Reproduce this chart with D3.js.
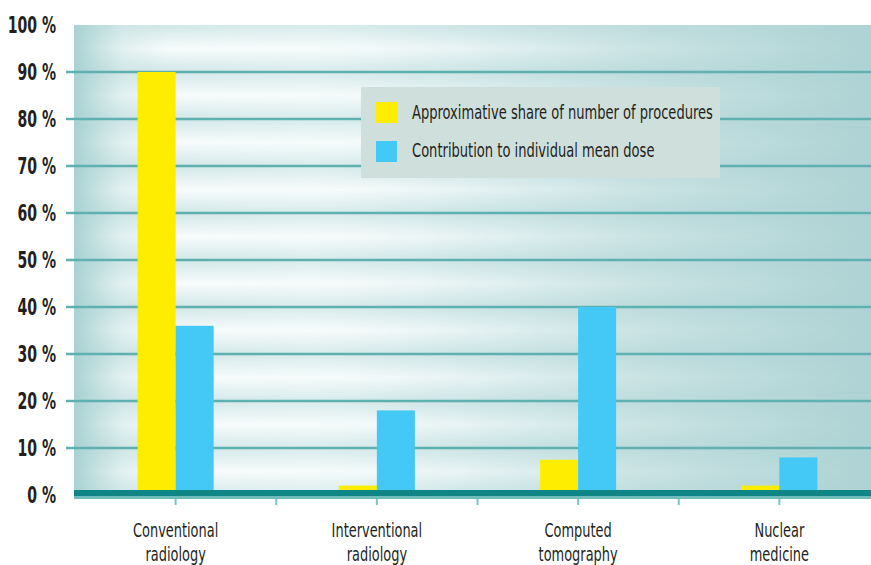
<!DOCTYPE html>
<html><head><meta charset="utf-8">
<script src="https://cdn.jsdelivr.net/npm/d3@7/dist/d3.min.js"></script>
<style>body{margin:0;background:#fff}svg{display:block}text{font-family:"DejaVu Sans Condensed","DejaVu Sans",sans-serif;fill:#231f20}</style>
</head><body>
<svg id="c" width="871" height="565"></svg>
<script>
const categories = [["Conventional","radiology"],["Interventional","radiology"],["Computed","tomography"],["Nuclear","medicine"]];
const seriesNames = ["Approximative share of number of procedures","Contribution to individual mean dose"];
const shareProcedures = [90, 2, 7.5, 2];
const doseContribution = [36, 18, 40, 8];
const yTicks = [0,10,20,30,40,50,60,70,80,90,100];
const colors = ["#ffed00","#44c8f5"];

(function(){
const svg = d3.select("#c");
const L = 74, T = 25, B = 495;
const x = d3.scaleBand().domain(d3.range(categories.length)).range([75, 880]);
const y = d3.scaleLinear().domain([0,100]).range([B, T]);
const defs = svg.append("defs");
function label(parent, tx, ty, str, size, anchor, weight, sx){
  const gg = parent.append("g").attr("transform",`translate(${tx},${ty}) scale(${sx||0.72},1)`);
  gg.append("text").attr("text-anchor",anchor).attr("font-size",size).attr("font-weight",weight||"normal").text(str);
  return gg;
}

const hg = defs.append("linearGradient").attr("id","hg");
[[0,"#a9d2d3"],[0.06,"#cfe6e6"],[0.3,"#d9ecec"],[0.6,"#c4e0e1"],[1,"#aed3d4"]].forEach(([o,c])=>hg.append("stop").attr("offset",o).attr("stop-color",c));
const vg = defs.append("linearGradient").attr("id","vg").attr("x1",0).attr("x2",0).attr("y1",0).attr("y2",1);
[[0,0],[0.5,0.85],[1,0]].forEach(([o,a])=>vg.append("stop").attr("offset",o).attr("stop-color","#fff").attr("stop-opacity",a));
const mg = defs.append("linearGradient").attr("id","mg");
[[0,0],[0.04,0.3],[0.12,1],[0.35,0.9],[0.7,0.25],[1,0]].forEach(([o,a])=>mg.append("stop").attr("offset",o).attr("stop-color","#fff").attr("stop-opacity",a));
defs.append("mask").attr("id","mk").attr("maskUnits","userSpaceOnUse").append("rect")
  .attr("x",L).attr("y",T).attr("width",871-L).attr("height",B-T).attr("fill","url(#mg)");

svg.append("rect").attr("x",L).attr("y",T).attr("width",871-L).attr("height",B-T).attr("fill","url(#hg)");
const bands = svg.append("g").attr("mask","url(#mk)");
yTicks.slice(0,-1).forEach(t=>{
  bands.append("rect").attr("x",L).attr("y",y(t+10)).attr("width",871-L).attr("height",y(t)-y(t+10)).attr("fill","url(#vg)");
});

svg.append("g").selectAll("line").data(yTicks.filter(t=>t>0&&t<100)).join("line")
  .attr("x1",66).attr("x2",871).attr("y1",d=>y(d)).attr("y2",d=>y(d))
  .attr("stroke","#5fb1b1").attr("stroke-width",2.5);

const g = svg.append("g");
const bw = 38;
categories.forEach((c,i)=>{
  const cx = x(i)+x.bandwidth()/2;
  g.append("rect").attr("x",cx-bw).attr("width",bw).attr("y",y(shareProcedures[i])).attr("height",B-y(shareProcedures[i])).attr("fill",colors[0]);
  g.append("rect").attr("x",cx).attr("width",bw).attr("y",y(doseContribution[i])).attr("height",B-y(doseContribution[i])).attr("fill",colors[1]);
});

svg.append("rect").attr("x",L).attr("y",B-5).attr("width",871-L).attr("height",6).attr("fill","#0f8585");
svg.append("rect").attr("x",L).attr("y",B+1).attr("width",871-L).attr("height",3).attr("fill","#6fbcbc");

const xt = [];
categories.forEach((c,i)=>{ xt.push(x(i)+x.bandwidth()/2); if(i<categories.length-1) xt.push(x(i+1)); });
svg.append("g").selectAll("line").data(xt).join("line")
  .attr("x1",d=>d).attr("x2",d=>d).attr("y1",B+4).attr("y2",B+10)
  .attr("stroke","#7cc4c4").attr("stroke-width",2);

const yl = svg.append("g");
yTicks.forEach(t=>label(yl, 56, y(t)+8, t+" %", 23, "end", "bold", 0.68));

const xl = svg.append("g");
categories.forEach((c,i)=>{
  const cx = x(i)+x.bandwidth()/2;
  c.forEach((line,j)=>label(xl, cx, 537+j*24, line, 20, "middle"));
});

const lg = svg.append("g");
lg.append("rect").attr("x",361).attr("y",87).attr("width",359).attr("height",91).attr("fill","#cfdfdb");
seriesNames.forEach((n,i)=>{
  lg.append("rect").attr("x",376).attr("y",102+i*39).attr("width",21).attr("height",21).attr("fill",colors[i]);
  label(lg, 412, 119+i*38, n, 19.5, "start", "normal", 0.745);
});
})();
</script>
</body></html>
